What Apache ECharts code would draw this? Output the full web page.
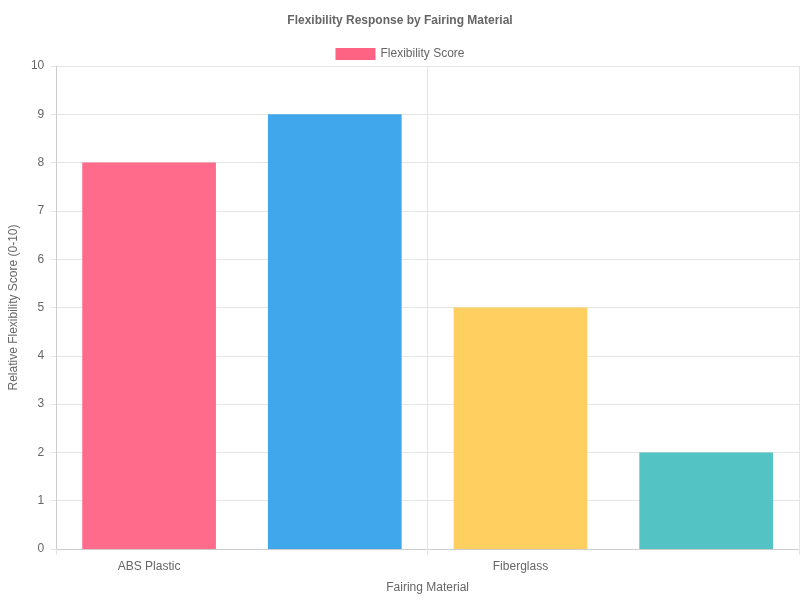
<!DOCTYPE html>
<html>
<head>
<meta charset="utf-8">
<script src="https://cdn.jsdelivr.net/npm/echarts@6/dist/echarts.min.js"></script>
<style>html,body{margin:0;padding:0;background:#fff}#chart{width:800px;height:600px}</style>
</head>
<body>
<div id="chart"></div>
<script>
var materials = ['ABS Plastic', 'Polypropylene', 'Fiberglass', 'Generic Brittle Thermoplastics'];
var scores = [8, 9, 5, 2];
var barColors = ['#FF6384', '#36A2EB', '#FFCE56', '#4BC0C0'];

var chart = echarts.init(document.getElementById('chart'));
var gridColor = '#e5e5e5';
chart.setOption({
    textStyle: { fontFamily: 'Liberation Sans, Arial, sans-serif' },
    title: {
        text: 'Flexibility Response by Fairing Material',
        left: 'center', top: 10,
        textStyle: { fontSize: 12, fontWeight: 'bold', color: '#666' }
    },
    legend: {
        top: 43, left: 'center',
        icon: 'rect', itemWidth: 40, itemHeight: 12, itemGap: 8,
        textStyle: { fontSize: 12, color: '#666' },
        data: ['Flexibility Score']
    },
    grid: { left: 49, right: 1, top: 66, bottom: 51 },
    xAxis: {
        type: 'category',
        data: materials,
        name: 'Fairing Material', nameLocation: 'middle', nameGap: 33,
        nameTextStyle: { fontSize: 12, color: '#666' },
        axisLine: { lineStyle: { color: '#ccc' } },
        axisTick: { show: true, length: 6, lineStyle: { color: gridColor } },
        axisLabel: { fontSize: 12, color: '#666', margin: 12 },
        splitLine: { show: true, lineStyle: { color: gridColor } }
    },
    yAxis: {
        type: 'value', min: 0, max: 10, interval: 1,
        name: 'Relative Flexibility Score (0-10)', nameLocation: 'middle', nameGap: 32,
        nameTextStyle: { fontSize: 12, color: '#666' },
        axisLine: { show: true, lineStyle: { color: '#ccc' } },
        axisTick: { show: true, length: 6, lineStyle: { color: gridColor } },
        axisLabel: { fontSize: 12, color: '#666', margin: 12 },
        splitLine: { lineStyle: { color: gridColor } }
    },
    series: [{
        name: 'Flexibility Score',
        type: 'bar',
        barCategoryGap: '28%',
        itemStyle: { color: barColors[0] },
        data: scores.map(function (v, i) {
            return { value: v, itemStyle: { color: barColors[i], opacity: 0.95 } };
        })
    }]
});
</script>
</body>
</html>
